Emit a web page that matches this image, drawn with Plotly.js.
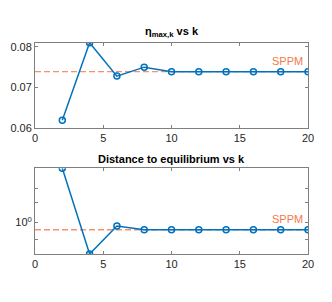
<!DOCTYPE html>
<html>
<head>
<meta charset="utf-8">
<script src="https://cdn.plot.ly/plotly-3.0.1.min.js"></script>
<style>html,body{margin:0;padding:0;background:#fff;}</style>
</head>
<body>
<div id="chart" style="width:332px;height:302px;"></div>
<script>
const k = [2, 4, 6, 8, 10, 12, 14, 16, 18, 20];
const etaMax = [0.062, 0.081, 0.0728, 0.075, 0.0739, 0.0739, 0.0739, 0.0739, 0.0739, 0.0739];
const distance = [3.0, 0.526, 0.93, 0.86, 0.86, 0.86, 0.86, 0.86, 0.86, 0.86];
const sppmEta = 0.0739;
const sppmDist = 0.86;
const xRange = [0, 20];
const etaRange = [0.06, 0.081];
const distRange = [0.526, 3.0];
const xTicks = [0, 5, 10, 15, 20];
const etaTicks = [0.06, 0.07, 0.08];
const etaTickText = ['0.06', '0.07', '0.08'];
const distTicks = [1];
const distTickText = ['10<sup>0</sup>'];
const distMinor = [0.7, 1.5, 2, 3];

const blue = '#0072BD';
const orange = '#F5784A';
const dashColor = 'rgba(242,110,60,0.75)';
const axisColor = '#7f7f7f';
const textColor = '#262626';
const font = 'Liberation Sans, Arial, sans-serif';

const traces = [
  {x: xRange, y: [sppmEta, sppmEta], xaxis: 'x', yaxis: 'y', mode: 'lines',
   line: {color: dashColor, width: 1.4, dash: '6px,3px'}, hoverinfo: 'skip'},
  {x: k, y: etaMax, xaxis: 'x', yaxis: 'y', mode: 'lines+markers',
   line: {color: blue, width: 1.5},
   marker: {symbol: 'circle-open', size: 6, color: blue, line: {width: 1.5, color: blue}}},
  {x: xRange, y: [sppmDist, sppmDist], xaxis: 'x2', yaxis: 'y2', mode: 'lines',
   line: {color: dashColor, width: 1.4, dash: '6px,3px'}, hoverinfo: 'skip'},
  {x: k, y: distance, xaxis: 'x2', yaxis: 'y2', mode: 'lines+markers',
   line: {color: blue, width: 1.5},
   marker: {symbol: 'circle-open', size: 6, color: blue, line: {width: 1.5, color: blue}}}
];

const axCommon = {
  showline: true, linecolor: axisColor, linewidth: 1, mirror: 'ticks',
  ticks: 'inside', ticklen: 3, tickcolor: axisColor, showgrid: false, zeroline: false,
  tickfont: {family: font, size: 11, color: textColor}
};

const layout = {
  width: 332, height: 302, autosize: false,
  margin: {l: 35, r: 24, t: 0, b: 0},
  paper_bgcolor: '#fff', plot_bgcolor: '#fff',
  showlegend: false,
  font: {family: font, color: textColor},
  xaxis: Object.assign({}, axCommon, {domain: [0, 1], range: xRange, tickvals: xTicks, anchor: 'y'}),
  yaxis: Object.assign({}, axCommon, {domain: [0.5752, 0.8586], range: etaRange, tickvals: etaTicks, ticktext: etaTickText, anchor: 'x'}),
  xaxis2: Object.assign({}, axCommon, {domain: [0, 1], range: xRange, tickvals: xTicks, anchor: 'y2'}),
  yaxis2: Object.assign({}, axCommon, {domain: [0.1589, 0.4427], type: 'log',
    range: [Math.log10(distRange[0]), Math.log10(distRange[1])],
    tickvals: distTicks, ticktext: distTickText, anchor: 'x2',
    minor: {tickvals: distMinor, ticks: 'inside', ticklen: 3, tickcolor: axisColor, showgrid: false}}),
  annotations: [
    {text: '<b>η<sub>max,k</sub> vs k</b>', xref: 'paper', yref: 'paper', x: 0.5, y: 0.8586,
     yanchor: 'bottom', xanchor: 'center', yshift: 2, showarrow: false,
     font: {family: font, size: 11, color: '#000'}},
    {text: '<b>Distance to equilibrium vs k</b>', xref: 'paper', yref: 'paper', x: 0.5, y: 0.4427,
     yanchor: 'bottom', xanchor: 'center', yshift: 1, showarrow: false,
     font: {family: font, size: 11, color: '#000'}},
    {text: 'SPPM', xref: 'x', yref: 'y', x: xRange[1], y: sppmEta, xanchor: 'right', yanchor: 'bottom',
     xshift: -3, yshift: 3, showarrow: false, font: {family: font, size: 11, color: orange}},
    {text: 'SPPM', xref: 'x2', yref: 'y2', x: xRange[1], y: Math.log10(sppmDist), xanchor: 'right', yanchor: 'bottom',
     xshift: -3, yshift: 3, showarrow: false, font: {family: font, size: 11, color: orange}}
  ]
};

Plotly.newPlot('chart', traces, layout, {staticPlot: true, displayModeBar: false});
</script>
</body>
</html>
